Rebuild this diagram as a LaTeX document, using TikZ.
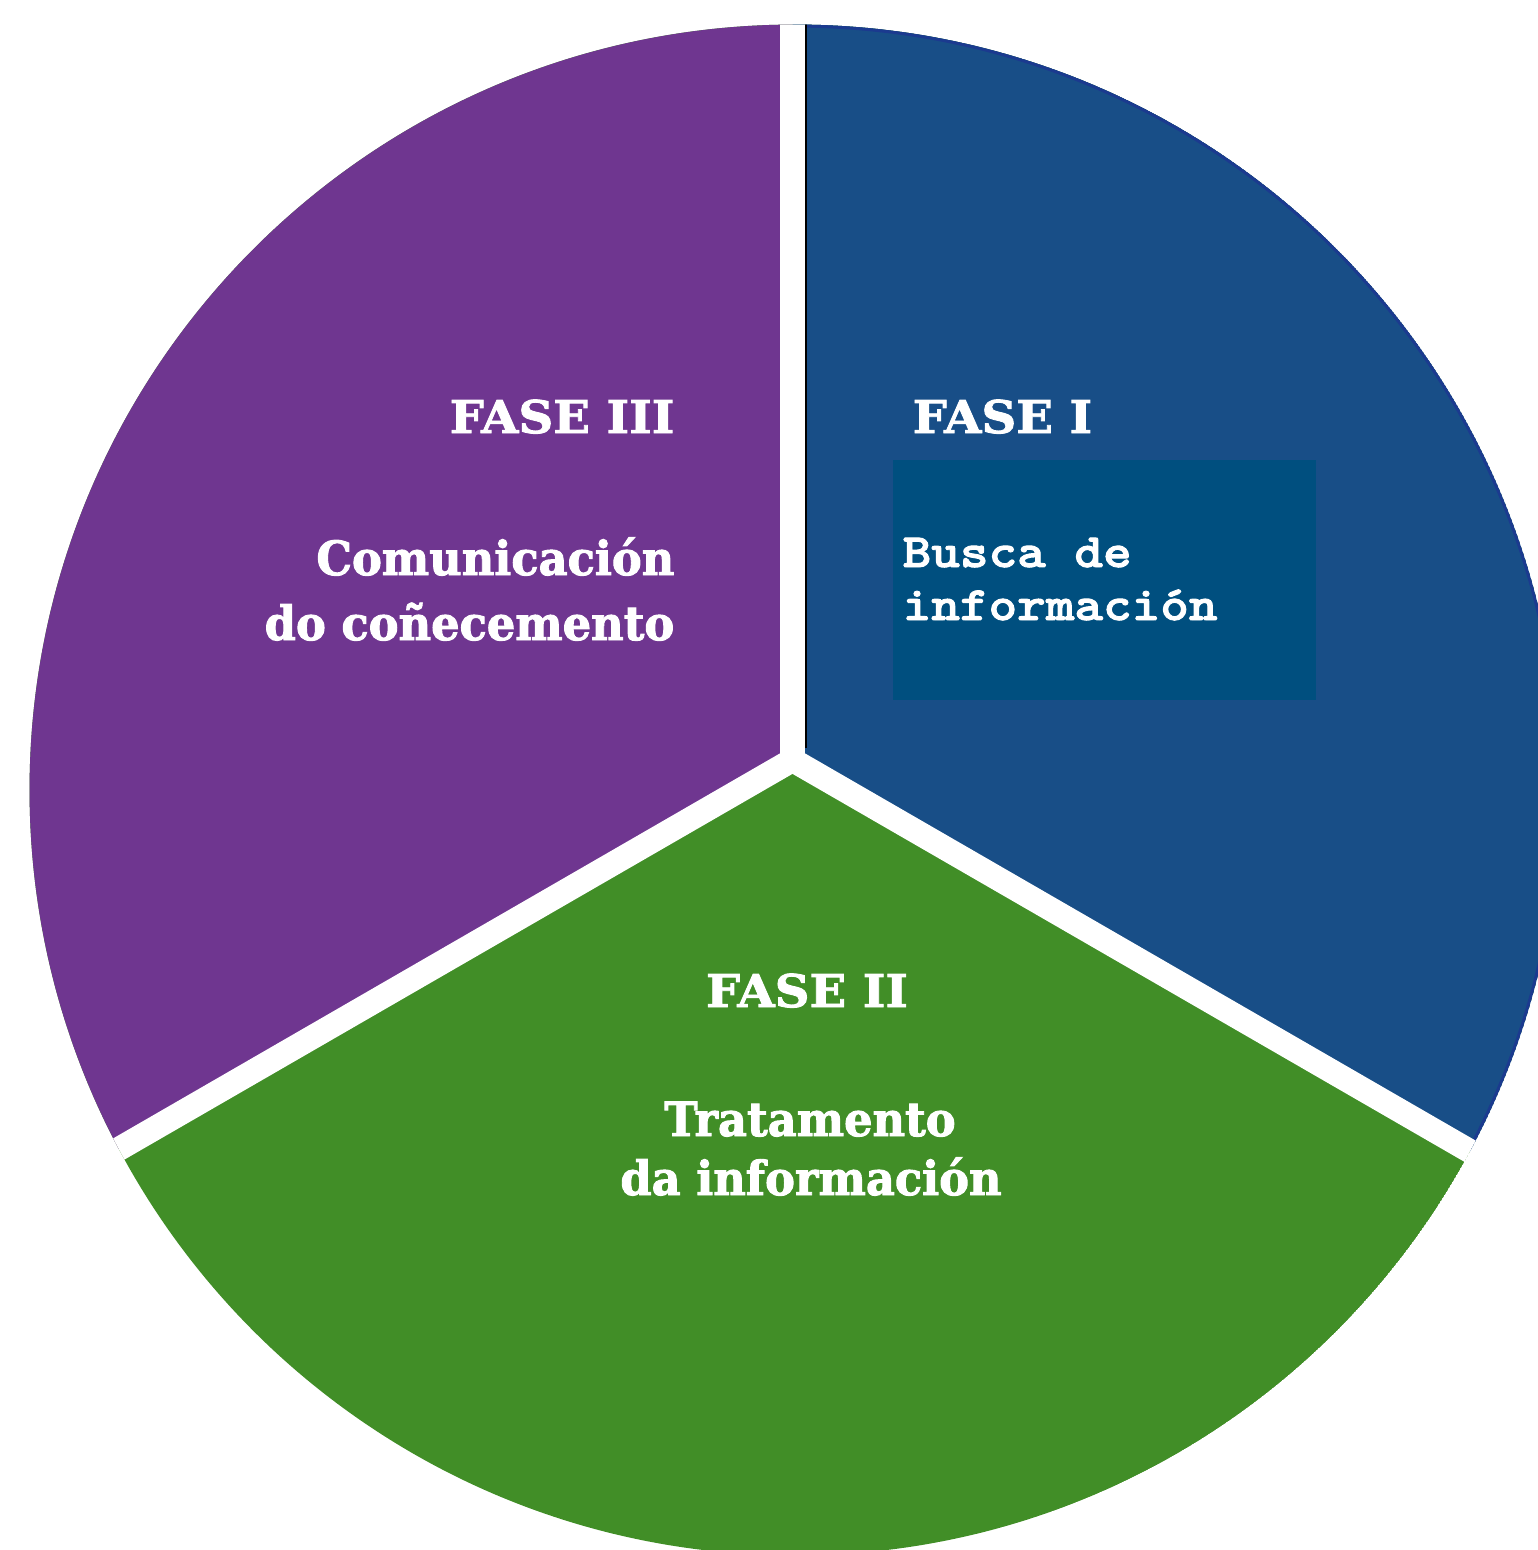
\documentclass[tikz,border=0pt]{standalone}
\usepackage{fontspec}
\newfontfamily\slabtitle{DejaVu Serif}[FakeStretch=1.07, BoldFeatures={FakeBold=2}]
\newfontfamily\slabbody{DejaVu Serif}[FakeStretch=0.95, BoldFeatures={FakeBold=2}]
\newfontfamily\courfont{lmmonolt10-bold.otf}[FakeStretch=1.14, FakeBold=2]
\definecolor{purplesec}{HTML}{6F3690}
\definecolor{bluesec}{HTML}{184E87}
\definecolor{boxcol}{HTML}{004F7F}
\definecolor{greensec}{HTML}{418E27}
\definecolor{blueedge}{HTML}{1B3A8F}
\tikzset{
  titletext/.style={text=white, inner sep=0pt, font=\slabtitle\bfseries\fontsize{12.8pt}{15pt}\selectfont},
  bodytext/.style={text=white, inner sep=0pt, font=\slabbody\bfseries\fontsize{13.4pt}{16pt}\selectfont},
  monotext/.style={text=white, inner sep=0pt, font=\courfont\fontsize{13.6pt}{16pt}\selectfont},
  gapline/.style={white, line width=0.24cm},
  infobox/.style={fill=boxcol, inner sep=0pt, minimum width=4.23cm, minimum height=2.40cm}
}
\begin{document}
\begin{tikzpicture}[x=0.01cm, y=-0.01cm]
\useasboundingbox (0,0) rectangle (1538,1550);
\fill[white] (0,0) rectangle (1538,1550);
\coordinate (C) at (795,790);
\coordinate (P) at (792.5,760);
\coordinate (U) at (792.5,-200);
\coordinate (L) at (-939.5,1760);
\coordinate (R) at (2524.5,1760);
\begin{scope}
  \clip (C) circle (7.65cm);
  \fill[greensec] (C) circle (7.65cm);
  \fill[bluesec] (P) -- (U) -- (2600,-200) -- (R) -- cycle;
  \fill[purplesec] (P) -- (U) -- (-1000,-200) -- (L) -- cycle;
  \begin{scope}
    \clip (P) -- (U) -- (2600,-200) -- (R) -- cycle;
    \draw[blueedge, line width=0.03cm] (C) circle (7.635cm);
  \end{scope}
  \draw[black, line width=0.02cm] (805.5,0) -- (805.5,748);
  \draw[gapline] (P) -- (U);
  \draw[gapline] (P) -- (L);
  \draw[gapline] (P) -- (R);
  \fill[white] (P) circle (0.12cm);
\end{scope}
\node[infobox] (box1) at (1104.5,580) {};
\node[titletext, anchor=base east] (f3) at (675,433) {FASE III};
\node[bodytext, anchor=base east] (c3a) at (675,575) {Comunicación};
\node[bodytext, anchor=base east] (c3b) at (675,640) {do coñecemento};
\node[titletext, anchor=base west] (f1) at (912,433) {FASE I};
\node[monotext, anchor=base west] (b1) at (902,567) {Busca de};
\node[monotext, anchor=base west] (b2) at (902,620) {información};
\node[titletext, anchor=base] (f2) at (807,1007) {FASE II};
\node[bodytext, anchor=base] (t2a) at (810,1136) {Tratamento};
\node[bodytext, anchor=base] (t2b) at (811,1195) {da información};
\end{tikzpicture}
\end{document}
